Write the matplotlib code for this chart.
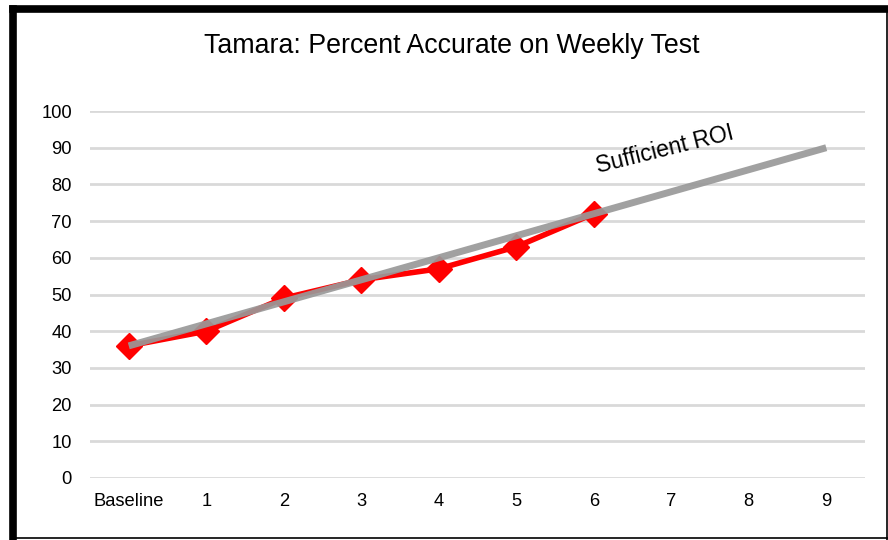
import matplotlib
matplotlib.use("Agg")
import matplotlib.pyplot as plt
from matplotlib.lines import Line2D

plt.rcParams['font.family'] = ['Liberation Sans', 'DejaVu Sans']

categories = ["Baseline", "1", "2", "3", "4", "5", "6", "7", "8", "9"]
scores = [36, 40, 49, 54, 57, 63, 72]
roi_start = 36
roi_end = 90
title = "Tamara: Percent Accurate on Weekly Test"
roi_label = "Sufficient ROI"

fig = plt.figure(figsize=(8.88, 5.4), dpi=100)
ax = fig.add_axes([90/888, 62/540, 775/888, 367/540])

x_all = list(range(len(categories)))
ax.set_xlim(-0.5, len(categories) - 0.5)
ax.set_ylim(0, 100)
ax.set_yticks(range(0, 101, 10))
ax.set_xticks(x_all)
ax.set_xticklabels(categories)
ax.tick_params(axis='both', length=0, labelsize=13.2, colors='black')
ax.tick_params(axis='y', pad=13)
ax.tick_params(axis='x', pad=11)
ax.yaxis.grid(True, color='#d9d9d9', linewidth=2)
ax.set_axisbelow(True)
for s in ax.spines.values():
    s.set_visible(False)

ax.plot(range(len(scores)), scores, color='#ff0000', linewidth=4,
        marker='D', markersize=13, markerfacecolor='#ff0000',
        markeredgecolor='#ff0000', zorder=3, clip_on=False)
ax.plot([0, len(categories) - 1], [roi_start, roi_end], color='#999999',
        linewidth=5, alpha=0.92, zorder=4, solid_capstyle='butt', clip_on=False)

ax.text(6.92, 89.5, roi_label, rotation=14, ha='center', va='center',
        fontsize=16.5, color='black')

fig.text(452/888, 1 - 46/540, title, ha='center', va='center',
         fontsize=19.3, color='black')

# border
fig.add_artist(Line2D([12.5/888, 12.5/888], [0, 1 - 8.5/540], transform=fig.transFigure,
                      color='black', linewidth=5.5, solid_capstyle='projecting'))
fig.add_artist(Line2D([12.5/888, 1], [1 - 8.5/540, 1 - 8.5/540], transform=fig.transFigure,
                      color='black', linewidth=5.5, solid_capstyle='projecting'))
fig.add_artist(Line2D([886.5/888, 886.5/888], [0, 1 - 8.5/540], transform=fig.transFigure,
                      color='black', linewidth=1.2))
fig.add_artist(Line2D([12.5/888, 1], [2.5/540, 2.5/540], transform=fig.transFigure,
                      color='black', linewidth=1.2))

fig.savefig("out.png", dpi=100, facecolor='white')
